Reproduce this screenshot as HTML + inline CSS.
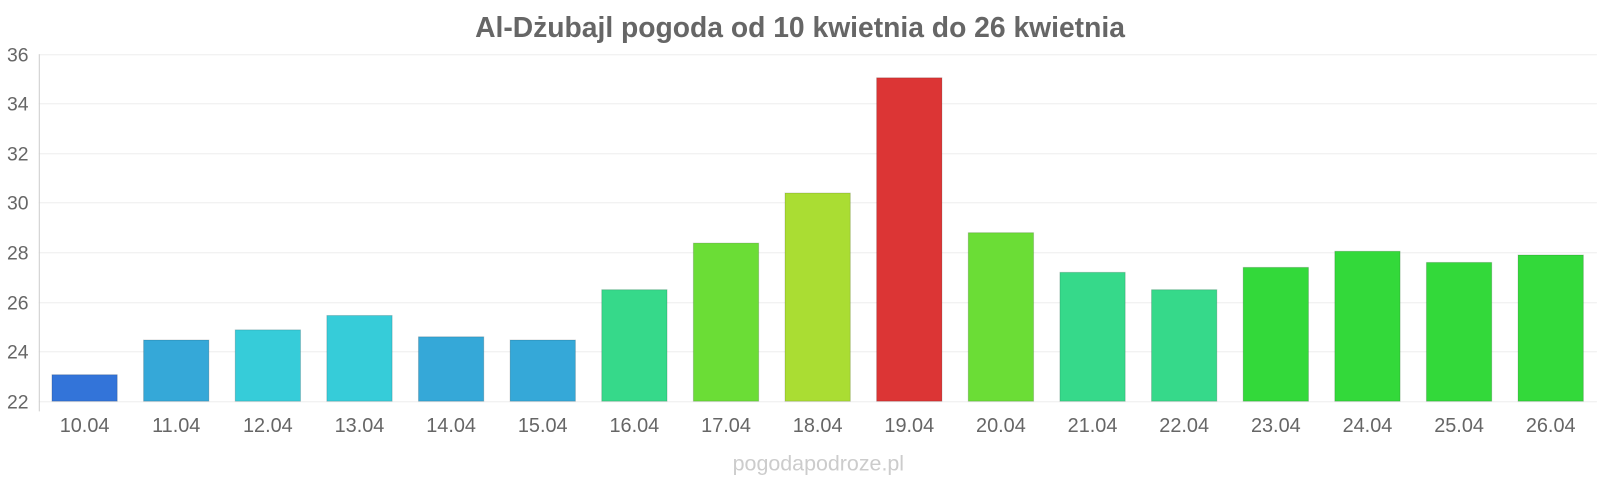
<!DOCTYPE html>
<html><head><meta charset="utf-8"><style>
body{margin:0;background:#fff;width:1600px;height:480px;overflow:hidden;font-family:"Liberation Sans",sans-serif}
</style></head><body>
<svg width="1600" height="480" viewBox="0 0 1568 470" xmlns="http://www.w3.org/2000/svg" font-family="Liberation Sans, sans-serif">
<text x="784" y="36" text-anchor="middle" font-size="27.7" font-weight="bold" fill="#666">Al-Dżubajl pogoda od 10 kwietnia do 26 kwietnia</text>
<g stroke="#eee" stroke-width="1">
<line x1="38" x2="1565" y1="53.5" y2="53.5"/><line x1="38" x2="1565" y1="101.5" y2="101.5"/>
<line x1="38" x2="1565" y1="150.5" y2="150.5"/><line x1="38" x2="1565" y1="198.5" y2="198.5"/>
<line x1="38" x2="1565" y1="247.5" y2="247.5"/><line x1="38" x2="1565" y1="296.5" y2="296.5"/>
<line x1="38" x2="1565" y1="344.5" y2="344.5"/><line x1="38" x2="1565" y1="393.5" y2="393.5"/>
</g>
<line x1="38.5" x2="38.5" y1="53" y2="403" stroke="#ccc"/>
<g font-size="19" fill="#666" text-anchor="end">
<text x="28" y="60">36</text><text x="28" y="108">34</text><text x="28" y="157">32</text>
<text x="28" y="205">30</text><text x="28" y="254">28</text><text x="28" y="303">26</text>
<text x="28" y="351">24</text><text x="28" y="400">22</text>
</g>
<g id="bars"></g>
<g id="labels" font-size="19.5" fill="#666" text-anchor="middle"></g>
<text x="802" y="461" text-anchor="middle" font-size="21" fill="#ccc">pogodapodroze.pl</text>
</svg>
<script>
var d=[[23.07,"#3374d9"],[24.47,"#35a8d8"],[24.88,"#36ccd9"],[25.46,"#36ccd9"],[24.6,"#35a8d8"],[24.47,"#35a8d8"],[26.5,"#36d98a"],[28.38,"#6bdd36"],[30.4,"#aadd33"],[35.05,"#dc3535"],[28.8,"#6bdd36"],[27.2,"#36d98a"],[26.5,"#36d98a"],[27.4,"#33d93a"],[28.05,"#33d93a"],[27.6,"#33d93a"],[27.9,"#33d93a"]];
var ns="http://www.w3.org/2000/svg",b=document.getElementById("bars"),l=document.getElementById("labels");
d.forEach(function(v,i){var cx=38+89.8*(i+0.5),y=393-(v[0]-22)*24.29;
var r=document.createElementNS(ns,"rect");r.setAttribute("x",cx-32);r.setAttribute("y",y);r.setAttribute("width",64);r.setAttribute("height",393-y);r.setAttribute("fill",v[1]);r.setAttribute("stroke","rgba(0,0,0,0.15)");b.appendChild(r);
var t=document.createElementNS(ns,"text");t.setAttribute("x",cx);t.setAttribute("y",423);t.textContent=(10+i)+".04";l.appendChild(t);});
</script>
</body></html>
